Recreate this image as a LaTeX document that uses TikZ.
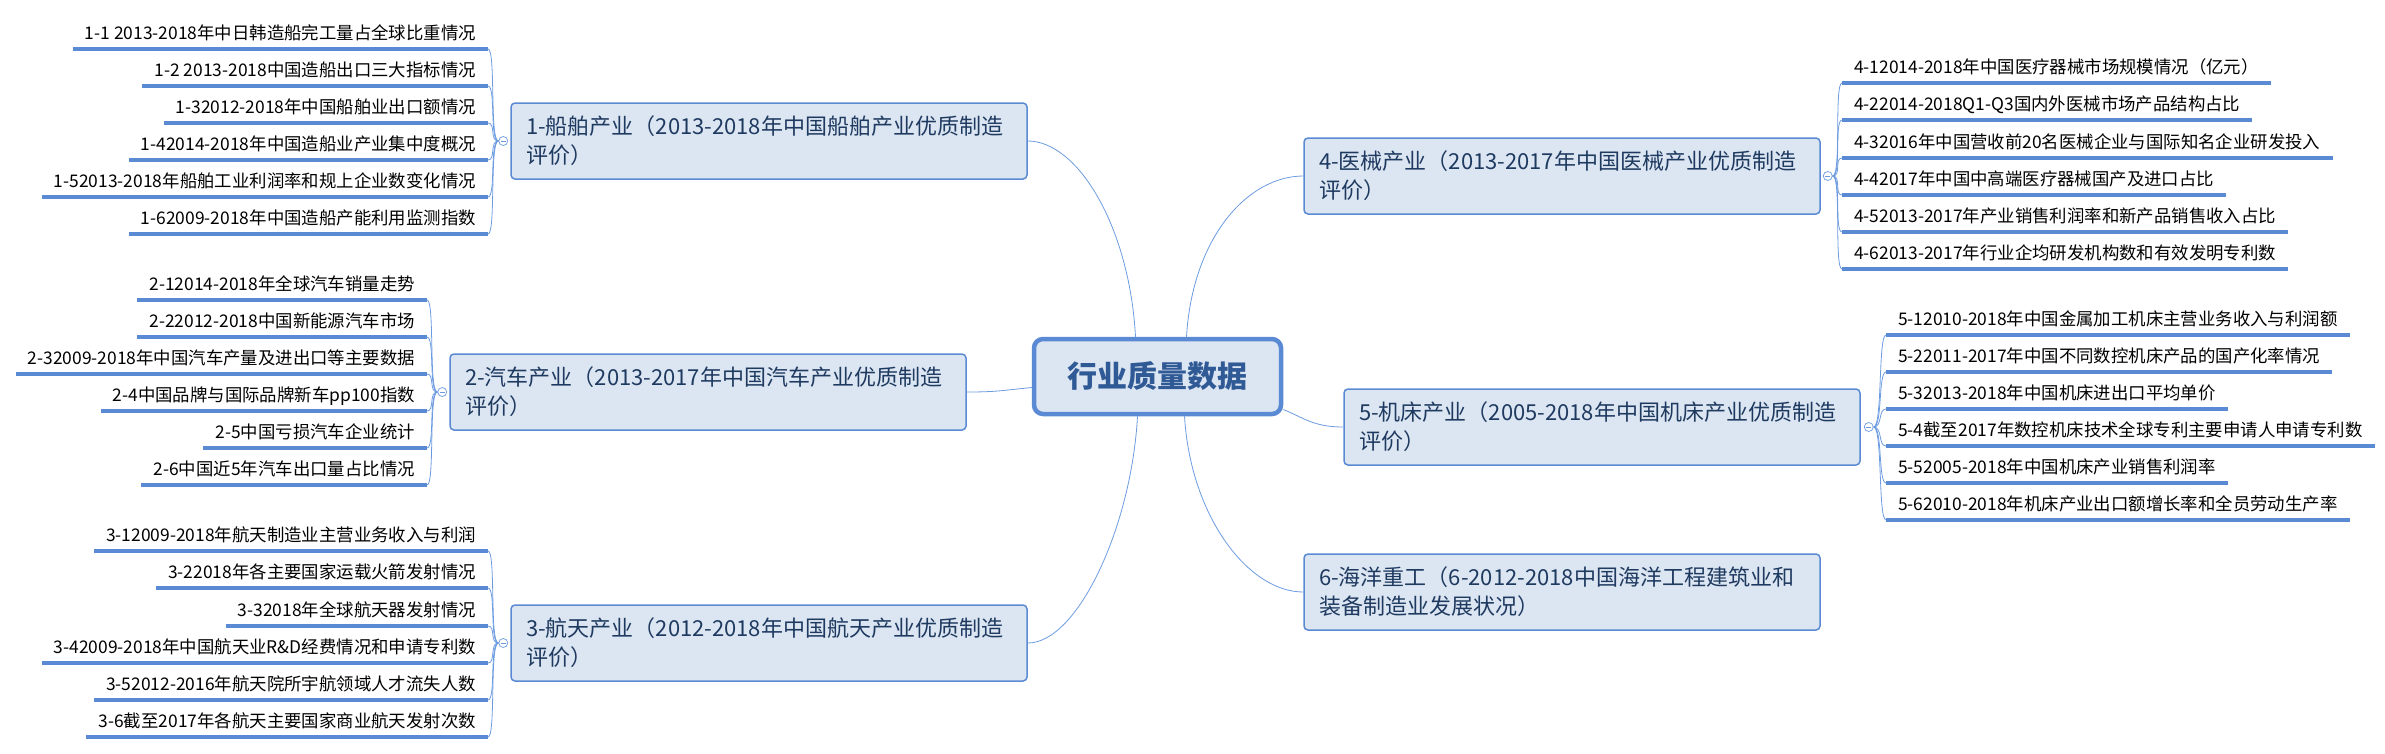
\documentclass[tikz,border=0pt]{standalone}
\usepackage{fontspec}
\usepackage{tikz}
\usetikzlibrary{positioning,calc}
\usepackage{xcolor}
\newfontfamily\cjk{Noto Sans CJK SC}
\definecolor{edgeblue}{HTML}{5A8AD3}
\definecolor{boxfill}{HTML}{DCE6F2}
\definecolor{navy}{HTML}{1F3A60}
\definecolor{rootink}{HTML}{305A96}
\definecolor{twigblue}{HTML}{6C9BE0}

\begin{document}
\begin{tikzpicture}[x=1pt,y=-1pt,
    rootbox/.style={draw=edgeblue,line width=4.5pt,fill=boxfill,rounded corners=9pt,
        minimum width=247pt,minimum height=75pt,text=rootink,
        font=\cjk\bfseries\fontsize{30}{36}\selectfont},
    topic/.style={draw=edgeblue,line width=1.5pt,fill=boxfill,rounded corners=4pt,
        text width=486pt,inner xsep=15pt,minimum height=76pt,align=left,text=navy,
        font=\cjk\fontsize{22}{29}\selectfont},
    leaf/.style={inner xsep=12pt,inner ysep=6.5pt,text height=14pt,text depth=3pt,
        font=\cjk\fontsize{17.4}{20}\selectfont},
    uline/.style={draw=edgeblue,line width=3.2pt},
    twig/.style={draw=twigblue,line width=0.8pt},
    fold/.style={circle,draw=twigblue,fill=white,line width=0.7pt,inner sep=0pt,minimum size=9pt,
        path picture={\draw[twigblue,line width=0.6pt]
            ([xshift=-2.5pt]path picture bounding box.center) -- ([xshift=2.5pt]path picture bounding box.center);}}]
\useasboundingbox (0,0) rectangle (2385,753);

% root and main topics
\node[rootbox] (root) at (1157.5,376.5) {行业质量数据};
\node[topic] (s1) at (769,141) {1-船舶产业（2013-2018年中国船舶产业优质制造\\评价）};
\node[topic] (s2) at (708,392) {2-汽车产业（2013-2017年中国汽车产业优质制造\\评价）};
\node[topic] (s3) at (769,643) {3-航天产业（2012-2018年中国航天产业优质制造\\评价）};
\node[topic] (s4) at (1562,176) {4-医械产业（2013-2017年中国医械产业优质制造\\评价）};
\node[topic] (s5) at (1602,427) {5-机床产业（2005-2018年中国机床产业优质制造\\评价）};
\node[topic] (s6) at (1562,592) {6-海洋重工（6-2012-2018中国海洋工程建筑业和\\装备制造业发展状况）};

% branches from the root
\draw[twig] (s1.east) .. controls +(50,0) and +(-6,-110) .. ([xshift=-22pt]root.north);
\draw[twig] (s2.east) .. controls +(30,0) and +(-30,3) .. ([yshift=-11pt]root.west);
\draw[twig] (s3.east) .. controls +(50,0) and +(-6,110) .. ([xshift=-20pt]root.south);
\draw[twig] (s4.west) .. controls +(-55,0) and +(6,-100) .. ([xshift=29pt]root.north);
\draw[twig] (s5.west) .. controls +(-30,0) and +(20,8) .. ([yshift=-33pt]root.east);
\draw[twig] (s6.west) .. controls +(-55,0) and +(6,100) .. ([xshift=27pt]root.south);

% fold marks
\node[fold] (f1) at ([xshift=-7pt]s1.west) {};
\node[fold] (f2) at ([xshift=-7pt]s2.west) {};
\node[fold] (f3) at ([xshift=-7pt]s3.west) {};
\node[fold] (f4) at ([xshift=7pt]s4.east) {};
\node[fold] (f5) at ([xshift=8pt]s5.east) {};

% 1 ships
\foreach \y/\t [count=\i] in {49/{1-1 2013-2018年中日韩造船完工量占全球比重情况},
    86/{1-2 2013-2018中国造船出口三大指标情况},
    123/{1-32012-2018年中国船舶业出口额情况},
    160/{1-42014-2018年中国造船业产业集中度概况},
    197/{1-52013-2018年船舶工业利润率和规上企业数变化情况},
    234/{1-62009-2018年中国造船产能利用监测指数}}{
  \node[leaf,anchor=south east] (a\i) at (488,\y) {\t};
  \draw[uline] (a\i.south west) -- (a\i.south east);
  \draw[twig] (f1.west) .. controls +(-9,0) and +(8,0) .. (a\i.south east);
}

% 2 cars
\foreach \y/\t [count=\i] in {300/{2-12014-2018年全球汽车销量走势},
    337/{2-22012-2018中国新能源汽车市场},
    374/{2-32009-2018年中国汽车产量及进出口等主要数据},
    411/{2-4中国品牌与国际品牌新车pp100指数},
    448/{2-5中国亏损汽车企业统计},
    485/{2-6中国近5年汽车出口量占比情况}}{
  \node[leaf,anchor=south east] (b\i) at (427,\y) {\t};
  \draw[uline] (b\i.south west) -- (b\i.south east);
  \draw[twig] (f2.west) .. controls +(-9,0) and +(8,0) .. (b\i.south east);
}

% 3 aerospace
\foreach \y/\t [count=\i] in {551/{3-12009-2018年航天制造业主营业务收入与利润},
    588/{3-22018年各主要国家运载火箭发射情况},
    626/{3-32018年全球航天器发射情况},
    663/{3-42009-2018年中国航天业R\&D经费情况和申请专利数},
    700/{3-52012-2016年航天院所宇航领域人才流失人数},
    737/{3-6截至2017年各航天主要国家商业航天发射次数}}{
  \node[leaf,anchor=south east] (c\i) at (488,\y) {\t};
  \draw[uline] (c\i.south west) -- (c\i.south east);
  \draw[twig] (f3.west) .. controls +(-9,0) and +(8,0) .. (c\i.south east);
}

% 4 medical devices
\foreach \y/\t [count=\i] in {83/{4-12014-2018年中国医疗器械市场规模情况（亿元）},
    120/{4-22014-2018Q1-Q3国内外医械市场产品结构占比},
    158/{4-32016年中国营收前20名医械企业与国际知名企业研发投入},
    195/{4-42017年中国中高端医疗器械国产及进口占比},
    232/{4-52013-2017年产业销售利润率和新产品销售收入占比},
    269/{4-62013-2017年行业企均研发机构数和有效发明专利数}}{
  \node[leaf,anchor=south west] (d\i) at (1842,\y) {\t};
  \draw[uline] (d\i.south west) -- (d\i.south east);
  \draw[twig] (f4.east) .. controls +(9,0) and +(-8,0) .. (d\i.south west);
}

% 5 machine tools
\foreach \y/\t [count=\i] in {335/{5-12010-2018年中国金属加工机床主营业务收入与利润额},
    372/{5-22011-2017年中国不同数控机床产品的国产化率情况},
    409/{5-32013-2018年中国机床进出口平均单价},
    446/{5-4截至2017年数控机床技术全球专利主要申请人申请专利数},
    483/{5-52005-2018年中国机床产业销售利润率},
    520/{5-62010-2018年机床产业出口额增长率和全员劳动生产率}}{
  \node[leaf,anchor=south west] (e\i) at (1886,\y) {\t};
  \draw[uline] (e\i.south west) -- (e\i.south east);
  \draw[twig] (f5.east) .. controls +(9,0) and +(-8,0) .. (e\i.south west);
}
\end{tikzpicture}
\end{document}
